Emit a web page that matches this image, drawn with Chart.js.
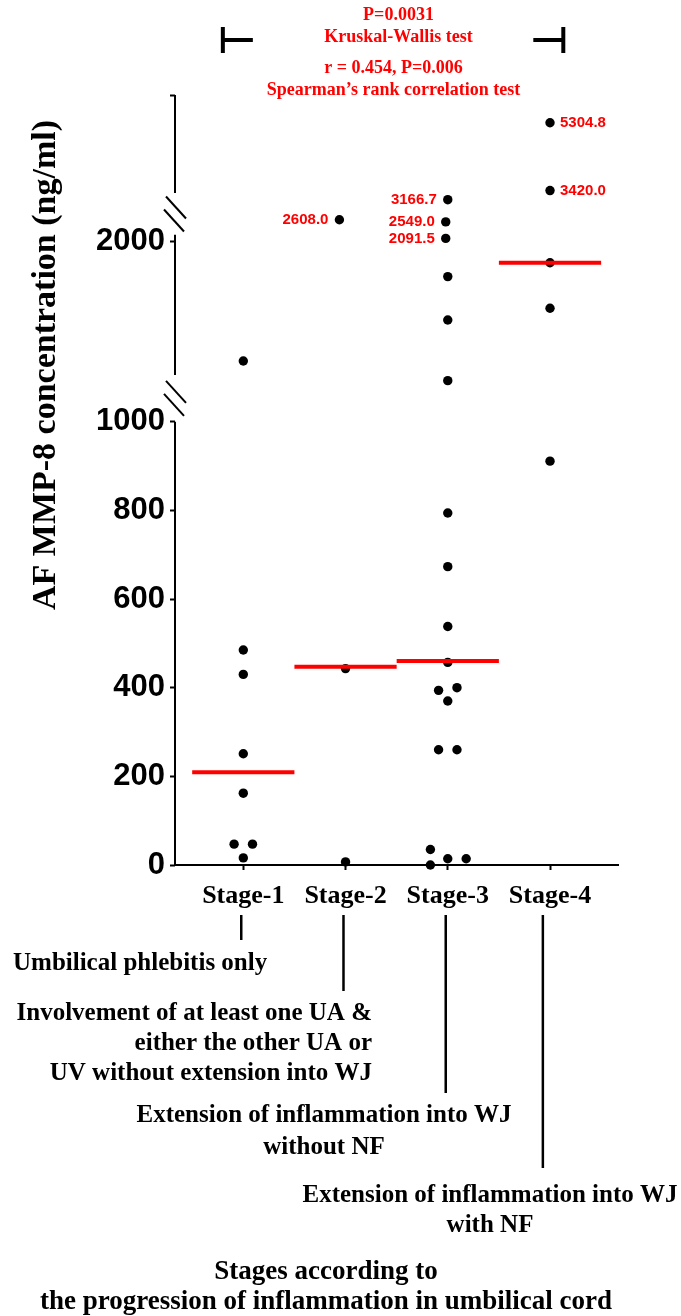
<!DOCTYPE html>
<html>
<head>
<meta charset="utf-8">
<title>AF MMP-8 by stage of umbilical cord inflammation</title>
<script src="https://cdn.jsdelivr.net/npm/chart.js@4.4.1/dist/chart.umd.min.js"></script>
<style>
  html, body { margin: 0; padding: 0; background: #fff; }
  canvas { display: block; }
</style>
</head>
<body>
<canvas id="chart" width="681" height="1316"></canvas>
<script>
const stageLabels = ["Stage-1", "Stage-2", "Stage-3", "Stage-4"];

// AF MMP-8 (ng/ml), one value per case; jitter = sideways nudge of the dot in category units
const stage1Values = [1337, 485, 430, 251, 162, 47, 47, 16];
const stage1Jitter = [0, 0, 0, 0, 0, -0.09, 0.09, 0];
const stage2Values = [2608.0, 443, 7];
const stage2Jitter = [-0.06, 0, 0];
const stage3Values = [3166.7, 2549.0, 2091.5, 1806, 1565, 1228, 794, 673, 538, 457, 394, 400, 370, 260, 260, 35, 14, 14, 0];
const stage3Jitter = [0, -0.02, -0.02, 0, 0, 0, 0, 0, 0, 0, -0.09, 0.09, 0, -0.09, 0.09, -0.17, 0, 0.18, -0.17];
const stage4Values = [5304.8, 3420.0, 1883, 1630, 911];
const stage4Jitter = [0, 0, 0, 0, 0];

const medians = [209, 447, 460, 1883];

const yTicks = [0, 200, 400, 600, 800, 1000, 2000];

// dots above this get their value written next to them
const labelAbove = 2000;

// broken y axis: [value, share of axis height], straight in between
const yBreaks = [[0, 0], [1000, 0.5757], [2000, 0.8095], [6075, 1]];
// parts of the y axis line that are actually drawn
const ySegments = [[0, 1000], [1260, 2190], [3350, 6075]];

class BrokenScale extends Chart.LinearScale {
    static id = "broken";
    static defaults = {};

    toDecimal(v) {
        for (let i = 1; i < yBreaks.length; i++) {
            if (v <= yBreaks[i][0] || i === yBreaks.length - 1) {
                const [v0, d0] = yBreaks[i - 1];
                const [v1, d1] = yBreaks[i];
                return d0 + (v - v0) / (v1 - v0) * (d1 - d0);
            }
        }
    }
    fromDecimal(d) {
        for (let i = 1; i < yBreaks.length; i++) {
            if (d <= yBreaks[i][1] || i === yBreaks.length - 1) {
                const [v0, d0] = yBreaks[i - 1];
                const [v1, d1] = yBreaks[i];
                return v0 + (d - d0) / (d1 - d0) * (v1 - v0);
            }
        }
    }
    buildTicks() {
        return yTicks.concat(this.max).map(value => ({ value }));
    }
    getPixelForValue(value) {
        if (value === null || value === undefined) return NaN;
        return this.getPixelForDecimal(this.toDecimal(value));
    }
    getValueForPixel(pixel) {
        return this.fromDecimal(this.getDecimalForPixel(pixel));
    }
}
Chart.register(BrokenScale);

const stageValues = [stage1Values, stage2Values, stage3Values, stage4Values];
const stageJitter = [stage1Jitter, stage2Jitter, stage3Jitter, stage4Jitter];

const dots = [];
stageValues.forEach((vals, i) => {
    vals.forEach((v, j) => dots.push({ x: i + 1 + stageJitter[i][j], y: v, stage: i }));
});

const medianSets = medians.map((m, i) => ({
    type: "line",
    data: [{ x: i + 0.5, y: m }, { x: i + 1.5, y: m }],
    borderColor: "#ff0000",
    borderWidth: 4,
    borderCapStyle: "butt",
    pointRadius: 0,
    clip: false
}));

const serif = '"Liberation Serif", "Times New Roman", serif';
const sans = '"Liberation Sans", Arial, sans-serif';

const notes = [
    { at: 0.98, lineEnd: 940, align: "left", x: 13, baselines: [970],
      lines: ["Umbilical phlebitis only"] },
    { at: 1.98, lineEnd: 991, align: "right", x: 372, baselines: [1020, 1050, 1080],
      lines: ["Involvement of at least one UA &", "either the other UA or", "UV without extension into WJ"] },
    { at: 2.98, lineEnd: 1093, align: "center", x: 324, baselines: [1122, 1154],
      lines: ["Extension of inflammation into WJ", "without NF"] },
    { at: 3.93, lineEnd: 1168, align: "center", x: 490, baselines: [1202, 1232],
      lines: ["Extension of inflammation into WJ", "with NF"] }
];

function strokeLine(ctx, x1, y1, x2, y2) {
    ctx.beginPath();
    ctx.moveTo(x1, y1);
    ctx.lineTo(x2, y2);
    ctx.stroke();
}

const decorations = {
    id: "decorations",
    afterDatasetsDraw(chart) {
        const { ctx, chartArea } = chart;
        const xs = chart.scales.x;
        const ys = chart.scales.y;
        ctx.save();

        // y axis line in pieces, with // marks in the gaps
        ctx.strokeStyle = "#000";
        ctx.lineWidth = 2;
        const ax = chartArea.left;
        ySegments.forEach(([a, b], i) => {
            const bottom = i === 0 ? chartArea.bottom + 1 : ys.getPixelForValue(a);
            strokeLine(ctx, ax, bottom, ax, ys.getPixelForValue(b));
        });
        for (let i = 0; i < ySegments.length - 1; i++) {
            const c = (ys.getPixelForValue(ySegments[i][1]) + ys.getPixelForValue(ySegments[i + 1][0])) / 2;
            [-6.5, 6.5].forEach((off, k) => {
                const cx = ax + (k === 0 ? 1 : -1);
                strokeLine(ctx, cx - 10, c + off - 11, cx + 10, c + off + 11);
            });
        }

        // values of the highest dots
        ctx.fillStyle = "#ff0000";
        ctx.font = "bold 15px " + sans;
        ctx.textBaseline = "middle";
        const meta = chart.getDatasetMeta(medianSets.length);
        meta.data.forEach((pt, k) => {
            const d = dots[k];
            if (d.y <= labelAbove) return;
            const toRight = d.stage === 3;
            ctx.textAlign = toRight ? "left" : "right";
            ctx.fillText(d.y.toFixed(1), pt.x + (toRight ? 10 : -11), pt.y);
        });

        // test results on top with the bracket
        const mid = (chartArea.left + chartArea.right) / 2;
        ctx.font = "bold 18px " + serif;
        ctx.textAlign = "center";
        ctx.fillText("P=0.0031", mid + 2, 15);
        ctx.fillText("Kruskal-Wallis test", mid + 2, 37);
        ctx.fillText("r = 0.454, P=0.006", mid - 3, 68);
        ctx.fillText("Spearman\u2019s rank correlation test", mid - 3, 90);

        ctx.strokeStyle = "#000";
        ctx.lineWidth = 4;
        const bl = xs.getPixelForValue(0.8);
        const br = xs.getPixelForValue(4.13);
        strokeLine(ctx, bl, 27, bl, 53);
        strokeLine(ctx, bl, 40, bl + 30, 40);
        strokeLine(ctx, br, 27, br, 53);
        strokeLine(ctx, br - 30, 40, br, 40);

        // y axis title
        ctx.fillStyle = "#000";
        ctx.save();
        ctx.translate(55, 365);
        ctx.rotate(-Math.PI / 2);
        ctx.font = "bold 34px " + serif;
        ctx.textAlign = "center";
        ctx.textBaseline = "alphabetic";
        ctx.fillText("AF MMP-8 concentration (ng/ml)", 0, 0);
        ctx.restore();

        // stage descriptions hanging under the axis
        ctx.textBaseline = "alphabetic";
        ctx.font = "bold 25px " + serif;
        ctx.lineWidth = 2.5;
        notes.forEach(n => {
            const lx = xs.getPixelForValue(n.at);
            strokeLine(ctx, lx, 915, lx, n.lineEnd);
            ctx.textAlign = n.align;
            n.lines.forEach((t, i) => ctx.fillText(t, n.x, n.baselines[i]));
        });

        ctx.font = "bold 27px " + serif;
        ctx.textAlign = "center";
        ctx.fillText("Stages according to", 326, 1279);
        ctx.fillText("the progression of inflammation in umbilical cord", 326, 1309);

        ctx.restore();
    }
};

new Chart(document.getElementById("chart"), {
    type: "scatter",
    data: {
        datasets: [
            ...medianSets,
            {
                type: "scatter",
                data: dots,
                pointRadius: 4.7,
                pointHoverRadius: 4.7,
                backgroundColor: "#000",
                borderWidth: 0,
                clip: false
            }
        ]
    },
    options: {
        responsive: false,
        animation: false,
        devicePixelRatio: 1,
        layout: { padding: { left: 0, top: 95, right: 63, bottom: 406 } },
        plugins: {
            legend: { display: false },
            tooltip: { enabled: false }
        },
        scales: {
            x: {
                type: "linear",
                min: 0.332,
                max: 4.665,
                border: { display: true, color: "#000", width: 2 },
                grid: { drawOnChartArea: false, drawTicks: true, tickLength: 5, tickWidth: 2, tickColor: "#000" },
                afterBuildTicks: s => { s.ticks = stageLabels.map((_, i) => ({ value: i + 1 })); },
                afterFit: s => { s.height = 45; },
                ticks: {
                    color: "#000",
                    padding: 11,
                    maxRotation: 0,
                    autoSkip: false,
                    font: { family: serif, weight: "bold", size: 26 },
                    callback: v => stageLabels[v - 1]
                }
            },
            y: {
                type: "broken",
                min: 0,
                max: 6075,
                border: { display: false },
                grid: { drawOnChartArea: false, drawTicks: true, tickLength: 5, tickWidth: 2, tickColor: "#000" },
                afterFit: s => { s.width = 175; },
                ticks: {
                    color: "#000",
                    padding: 5,
                    autoSkip: false,
                    font: { family: sans, weight: "bold", size: 31 },
                    callback: v => yTicks.includes(v) ? String(v) : ""
                }
            }
        }
    },
    plugins: [decorations]
});
</script>
</body>
</html>
